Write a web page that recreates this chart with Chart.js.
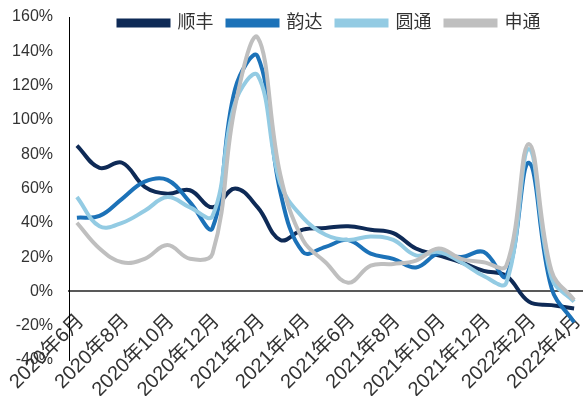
<!DOCTYPE html>
<html>
<head>
<meta charset="utf-8">
<script src="https://cdn.jsdelivr.net/npm/chart.js@4"></script>
<style>
  html, body { margin: 0; padding: 0; background: #fff; }
</style>
</head>
<body>
<canvas id="chart" width="583" height="396"></canvas>
<script>
// monthly categories, 2020-06 .. 2022-04
const months = [
  '2020年6月', '2020年7月', '2020年8月', '2020年9月', '2020年10月', '2020年11月',
  '2020年12月', '2021年1月', '2021年2月', '2021年3月', '2021年4月', '2021年5月',
  '2021年6月', '2021年7月', '2021年8月', '2021年9月', '2021年10月', '2021年11月',
  '2021年12月', '2022年1月', '2022年2月', '2022年3月', '2022年4月'
];
// every second month gets a tick label
const tickIndexes = [0, 2, 4, 6, 8, 10, 12, 14, 16, 18, 20, 22];

const seriesNames = ['顺丰', '韵达', '圆通', '申通'];
const shunfeng = [85, 72, 75, 61, 57, 59, 49, 60, 49, 30, 36, 37, 38, 36, 34, 25, 21, 17, 12, 9, -6, -8, -10];
const yunda    = [43, 44, 54, 64, 65, 52, 37, 118, 137, 58, 23, 26, 30, 22, 19, 14, 22, 20, 23, 9, 75, 2, -18];
const yuantong = [55, 38, 40, 47, 55, 49, 44, 110, 126, 63, 43, 33, 30, 32, 30, 21, 23, 17, 9, 5, 83, 8, -6];
const shentong = [40, 25, 17, 19, 27, 19, 22, 108, 148, 68, 30, 17, 5, 15, 16, 18, 25, 19, 17, 15, 86, 12, -5];

const colors = ['#0e2a56', '#1c72b8', '#93cbe3', '#bfbfbf'];
const allSeries = [shunfeng, yunda, yuantong, shentong];

const fontFamily = '"Liberation Sans", "Noto Sans CJK SC", sans-serif';

const datasets = allSeries.map((vals, i) => ({
  label: seriesNames[i],
  data: vals.map((v, j) => ({ x: j, y: v })),
  borderColor: colors[i],
  backgroundColor: colors[i],
  borderWidth: 4,
  pointRadius: 0,
  tension: 0.4,
  fill: false,
  order: 3 - i
}));

// legend sits over the top of the plot: it only reserves a thin strip in the
// layout, then gets a bigger box back so it isn't clipped when drawn
const legendOverlap = {
  id: 'legendOverlap',
  afterLayout(chart) {
    const lg = chart.legend;
    lg.top = 0;
    lg.height = 44;
    lg.bottom = 44;
    lg.left += 4;
    lg.right += 4;
  }
};

new Chart(document.getElementById('chart'), {
  type: 'line',
  data: { datasets: datasets },
  options: {
    responsive: false,
    animation: false,
    layout: { padding: { top: 0, right: 1, bottom: 36, left: 0 } },
    plugins: {
      legend: {
        position: 'top',
        fullSize: false,
        maxHeight: 17,
        labels: {
          boxWidth: 50,
          boxHeight: 5,
          padding: 14,
          color: '#333',
          font: { size: 18, family: fontFamily },
          sort: (a, b) => a.datasetIndex - b.datasetIndex
        }
      },
      tooltip: { enabled: false }
    },
    scales: {
      x: {
        type: 'linear',
        min: -0.35,
        max: 22.35,
        position: { y: 0 },
        grid: { display: false, drawTicks: false },
        border: { display: true, color: '#595959', width: 2 },
        afterBuildTicks: (scale) => {
          scale.ticks = tickIndexes.map(v => ({ value: v }));
        },
        afterFit: (scale) => {
          scale.paddingLeft = 0;
          scale.paddingRight = 0;
        },
        ticks: {
          autoSkip: false,
          minRotation: 45,
          maxRotation: 45,
          padding: 18,
          labelOffset: 4,
          color: '#333',
          font: { size: 20, family: fontFamily },
          callback: (v) => months[v]
        }
      },
      y: {
        min: -40,
        max: 160,
        grid: { display: false, drawTicks: false },
        border: { display: true, color: '#000', width: 1 },
        afterFit: (scale) => {
          scale.width = 69;
          scale.paddingTop = 0;
          scale.paddingBottom = 0;
        },
        ticks: {
          stepSize: 20,
          padding: 16,
          color: '#333',
          font: { size: 16, family: fontFamily },
          callback: (v) => v + '%'
        }
      }
    }
  },
  plugins: [legendOverlap]
});
</script>
</body>
</html>
